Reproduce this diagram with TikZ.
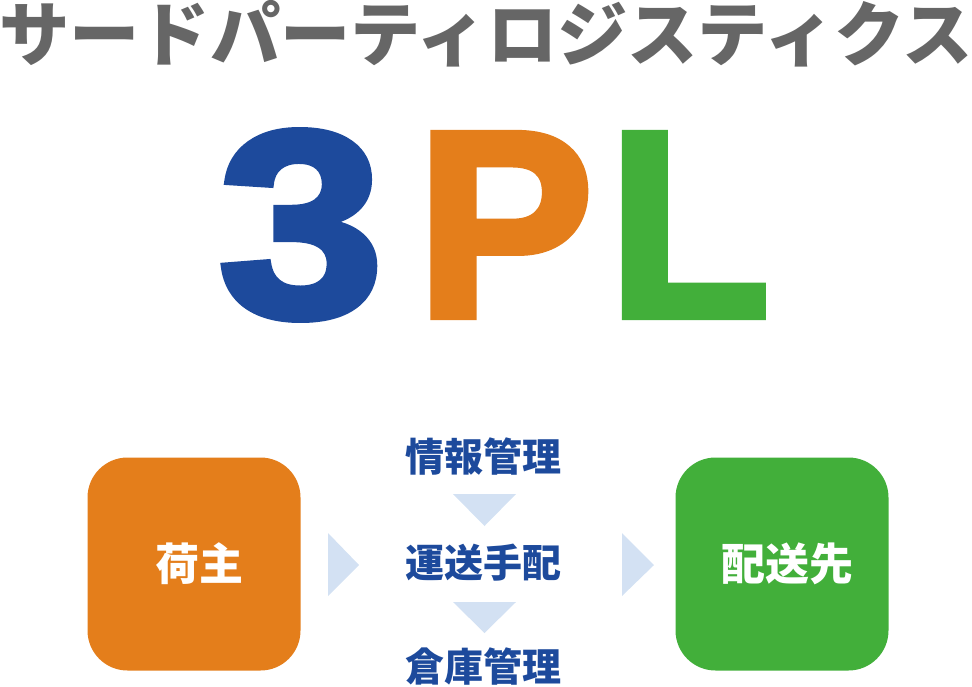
\documentclass[tikz,border=0pt]{standalone}
\usepackage{fontspec}
\newfontfamily\jpfont{Noto Sans CJK JP}
\newfontfamily\latinbold{Liberation Sans}[FakeBold=3]
\usetikzlibrary{positioning}

\definecolor{plblue}{HTML}{1D4A9C}
\definecolor{plorange}{HTML}{E47E1B}
\definecolor{plgreen}{HTML}{42AF3A}
\definecolor{plgray}{HTML}{666666}
\definecolor{pltri}{HTML}{D3E1F3}

\begin{document}
\begin{tikzpicture}[
    x=1pt, y=-1pt,
    % boxes at the two ends
    endbox/.style={
        rounded corners=40pt,
        minimum width=213pt,
        minimum height=213pt
    },
    boxtext/.style={
        text=white,
        font=\jpfont\bfseries\fontsize{44}{44}\selectfont
    },
    % the three tasks in the middle
    task/.style={
        text=plblue,
        font=\jpfont\bfseries\fontsize{39}{39}\selectfont
    },
    bigletter/.style={
        font=\latinbold\bfseries\fontsize{265}{265}\selectfont,
        inner sep=0pt
    },
    tri/.style={fill=pltri}
]
\useasboundingbox (0,0) rectangle (972,686);

% heading
\node[text=plgray, font=\jpfont\bfseries\fontsize{70.3}{70}\selectfont] (title) at (486,34) {サードパーティロジスティクス};

% 3PL
\node[bigletter, text=plblue] (three) at (301,225) {\scalebox{1.12}[1]{3}};
\node[bigletter, text=plorange] (p) at (505,225) {P};
\node[bigletter, text=plgreen] (l) at (689,225) {L};

% shipper and destination
\node[endbox, fill=plorange] (shipper) at (194,564) {};
\node[endbox, fill=plgreen] (dest) at (782,564) {};
\node[boxtext] (shippertext) at ([xshift=5pt]shipper.center) {荷主};
\node[boxtext] (desttext) at ([xshift=5pt]dest.center) {配送先};

% tasks of the 3PL
\node[task] (info) at (483,457) {情報管理};
\node[task] (trans) at (483,563) {運送手配};
\node[task] (store) at (483,667) {倉庫管理};

% arrows
\fill[tri] (328,533) -- (359,565) -- (328,596) -- cycle;
\fill[tri] (622,533) -- (654,565) -- (622,596) -- cycle;
\fill[tri] (453,494) -- (516,494) -- (484.5,526) -- cycle;
\fill[tri] (453,602) -- (516,602) -- (484.5,633) -- cycle;

\end{tikzpicture}
\end{document}
